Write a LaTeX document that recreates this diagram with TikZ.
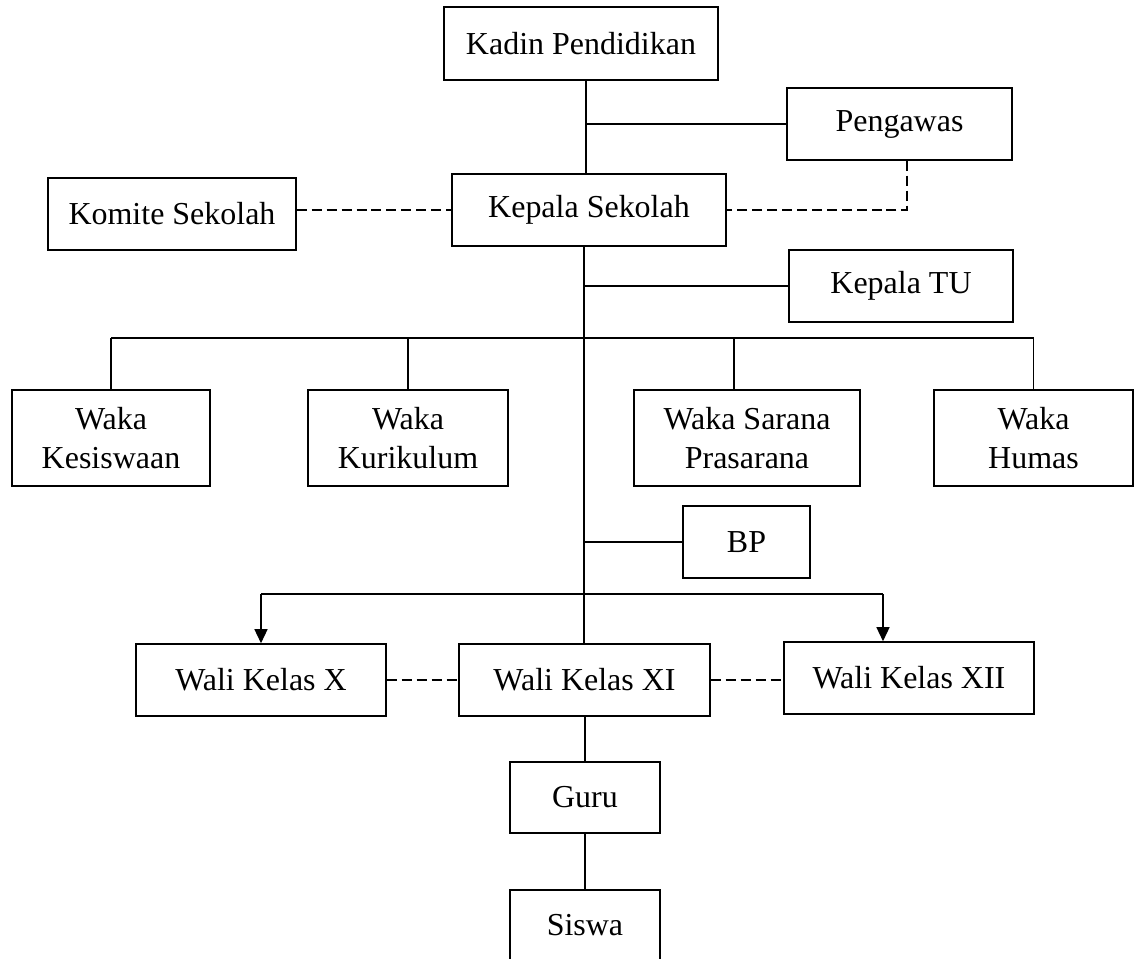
\documentclass[tikz,border=0pt]{standalone}
\usepackage{fontspec}
\setmainfont{Liberation Serif}
\usetikzlibrary{arrows.meta}
\begin{document}
\begin{tikzpicture}[x=0.02cm,y=-0.02cm,>={Triangle[width=7.4pt,length=8pt]},font=\fontsize{18.2}{22}\selectfont,
		box/.style={draw,line width=0.9pt,minimum height=1.44cm,inner sep=2pt,align=center},
		link/.style={line width=0.9pt},
		dotline/.style={line width=0.9pt,dash pattern=on 5.7pt off 2.8pt}]
		\useasboundingbox (0,0) rectangle (1134,958);
		% boxes
		\node[box,minimum width=5.48cm,minimum height=1.46cm] (kadin) at (581,43.5) {Kadin Pendidikan};
		\node[box,minimum width=4.5cm] (pengawas) at (899.5,124) {Pengawas};
		\node[box,minimum width=4.96cm] (komite) at (172,214) {Komite Sekolah};
		\node[box,minimum width=5.48cm] (kepsek) at (589,210) {Kepala Sekolah};
		\node[box,minimum width=4.48cm] (kepalatu) at (901,286) {Kepala TU};
		\node[box,minimum width=3.96cm,minimum height=1.92cm] (wakasis) at (111,438) {Waka\\Kesiswaan};
		\node[box,minimum width=4cm,minimum height=1.92cm] (wakakur) at (408,438) {Waka\\Kurikulum};
		\node[box,minimum width=4.52cm,minimum height=1.92cm] (wakasar) at (747,438) {Waka Sarana\\Prasarana};
		\node[box,minimum width=3.98cm,minimum height=1.92cm] (wakahum) at (1033.5,438) {Waka\\Humas};
		\node[box,minimum width=2.54cm] (bp) at (746.5,542) {BP};
		\node[box,minimum width=5cm] (walix) at (261,680) {Wali Kelas X};
		\node[box,minimum width=5.02cm] (walixi) at (584.5,680) {Wali Kelas XI};
		\node[box,minimum width=5cm] (walixii) at (909,678) {Wali Kelas XII};
		\node[box,minimum width=3cm,minimum height=1.42cm] (guru) at (585,797.5) {Guru};
		\node[box,minimum width=3cm,minimum height=1.42cm] (siswa) at (585,925.5) {Siswa};
		% lines
		\coordinate (s1) at (586,0);
		\coordinate (spine) at (584,0);
		\coordinate (bar1) at (0,338);
		\coordinate (bar2) at (0,594);
		\draw[link] (kadin.south -| s1) -- (kepsek.north -| s1);
		\draw[link] (pengawas.west) -- (pengawas.west -| s1);
		\draw[dotline] ([xshift=0.15cm]pengawas.south) |- (kepsek.east);
		\draw[dotline] (kepsek.west -| komite.east) -- (kepsek.west);
		\draw[link] (kepsek.south -| spine) -- (walixi.north -| spine);
		\draw[link] (kepalatu.west) -- (kepalatu.west -| spine);
		\draw[link] (wakasis.north |- bar1) -- (wakahum.north |- bar1);
		\foreach \n in {wakasis,wakakur,wakahum}\draw[link] (\n.north |- bar1) -- (\n.north);
		\draw[link] ([xshift=-0.26cm]wakasar.north |- bar1) -- ([xshift=-0.26cm]wakasar.north);
		\draw[link] (bp.west) -- (bp.west -| spine);
		\draw[link] (walix.north |- bar2) -- ([xshift=-0.52cm]walixii.north |- bar2);
		\draw[link,->] (walix.north |- bar2) -- (walix.north);
		\draw[link,->] ([xshift=-0.52cm]walixii.north |- bar2) -- ([xshift=-0.52cm]walixii.north);
		\draw[dotline] (walix.east) -- (walixi.west);
		\draw[dotline] (walixi.east) -- (walixii.west |- walixi.east);
		\draw[link] (guru.north |- walixi.south) -- (guru.north);
		\draw[link] (guru.south) -- (siswa.north);
\end{tikzpicture}
\end{document}
